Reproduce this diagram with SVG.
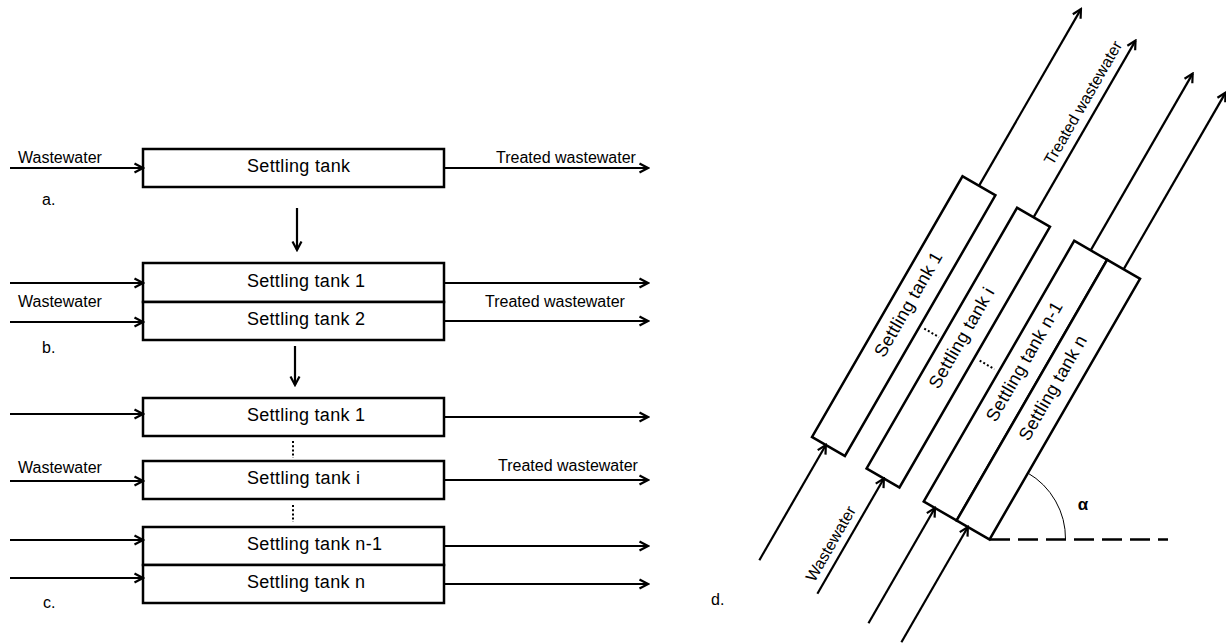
<svg xmlns="http://www.w3.org/2000/svg" width="1226" height="643" viewBox="0 0 1226 643">
<defs>
<style>
.box{fill:#fff;stroke:#000;stroke-width:2.5}
.ln{fill:none;stroke:#000;stroke-width:2.2}
.dots{fill:none;stroke:#000;stroke-width:2;stroke-dasharray:2 2.2}
.lbl{font-family:"Liberation Sans",Arial,sans-serif;font-size:16px;fill:#000}
.tk{font-family:"Liberation Sans",Arial,sans-serif;font-size:18px;fill:#000}
.al{font-family:"Liberation Sans",Arial,sans-serif;font-size:17px;font-weight:bold;fill:#000}
</style>
<marker id="ah" viewBox="0 0 12 12" refX="10" refY="6" markerWidth="12" markerHeight="12" markerUnits="userSpaceOnUse" orient="auto">
<path d="M1.5,1.5 L10,6 L1.5,10.5" fill="none" stroke="#000" stroke-width="2.2"/>
</marker>
</defs>
<rect width="1226" height="643" fill="#fff"/>

<!-- Panel a -->
<g id="a-tank"><rect class="box" x="143" y="149" width="301" height="38"/><text class="tk" x="247" y="172" textLength="103" lengthAdjust="spacing">Settling tank</text></g>
<!-- Panel b -->
<g id="b-tank1"><rect class="box" x="143" y="263" width="301" height="39"/><text class="tk" x="247" y="287" textLength="118" lengthAdjust="spacing">Settling tank 1</text></g>
<g id="b-tank2"><rect class="box" x="143" y="302" width="301" height="38"/><text class="tk" x="247" y="325" textLength="118" lengthAdjust="spacing">Settling tank 2</text></g>
<!-- Panel c -->
<g id="c-tank1"><rect class="box" x="143" y="398" width="301" height="38"/><text class="tk" x="247" y="421" textLength="118" lengthAdjust="spacing">Settling tank 1</text></g>
<g id="c-tanki"><rect class="box" x="143" y="461" width="301" height="38"/><text class="tk" x="247" y="484" textLength="113" lengthAdjust="spacing">Settling tank i</text></g>
<g id="c-tankn1"><rect class="box" x="143" y="527" width="301" height="38"/><text class="tk" x="247" y="550" textLength="135" lengthAdjust="spacing">Settling tank n-1</text></g>
<g id="c-tankn"><rect class="box" x="143" y="565" width="301" height="38"/><text class="tk" x="247" y="588" textLength="118" lengthAdjust="spacing">Settling tank n</text></g>

<!-- Panel d (panel c rotated) -->
<g transform="translate(812,437) rotate(-60) translate(-143,-398)">
<g id="d-tank1"><rect class="box" x="143" y="398" width="301" height="38"/><text class="tk" x="247" y="421" textLength="118" lengthAdjust="spacing">Settling tank 1</text></g>
<g id="d-tanki"><rect class="box" x="143" y="461" width="301" height="38"/><text class="tk" x="247" y="484" textLength="113" lengthAdjust="spacing">Settling tank i</text></g>
<g id="d-tankn1"><rect class="box" x="143" y="527" width="301" height="38"/><text class="tk" x="247" y="550" textLength="135" lengthAdjust="spacing">Settling tank n-1</text></g>
<g id="d-tankn"><rect class="box" x="143" y="565" width="301" height="38"/><text class="tk" x="247" y="588" textLength="118" lengthAdjust="spacing">Settling tank n</text></g>
</g>

<g id="connectors">
<line class="ln" x1="10" y1="168" x2="143" y2="168" marker-end="url(#ah)"/>
<line class="ln" x1="444" y1="168" x2="648" y2="168" marker-end="url(#ah)"/>
<line class="ln" x1="297" y1="208" x2="297" y2="250" marker-end="url(#ah)"/>
<line class="ln" x1="10" y1="283" x2="143" y2="283" marker-end="url(#ah)"/>
<line class="ln" x1="10" y1="322" x2="143" y2="322" marker-end="url(#ah)"/>
<line class="ln" x1="444" y1="283" x2="648" y2="283" marker-end="url(#ah)"/>
<line class="ln" x1="444" y1="321" x2="648" y2="321" marker-end="url(#ah)"/>
<line class="ln" x1="295" y1="346" x2="295" y2="385" marker-end="url(#ah)"/>
<line class="ln" x1="10" y1="414" x2="143" y2="414" marker-end="url(#ah)"/>
<line class="ln" x1="10" y1="481" x2="143" y2="481" marker-end="url(#ah)"/>
<line class="ln" x1="10" y1="540" x2="143" y2="540" marker-end="url(#ah)"/>
<line class="ln" x1="10" y1="578" x2="143" y2="578" marker-end="url(#ah)"/>
<line class="ln" x1="444" y1="417" x2="648" y2="417" marker-end="url(#ah)"/>
<line class="ln" x1="444" y1="480" x2="648" y2="480" marker-end="url(#ah)"/>
<line class="ln" x1="444" y1="546" x2="648" y2="546" marker-end="url(#ah)"/>
<line class="ln" x1="444" y1="584" x2="648" y2="584" marker-end="url(#ah)"/>
<line class="dots" x1="293" y1="441" x2="293" y2="458"/>
<line class="dots" x1="293" y1="505" x2="293" y2="522"/>
<g transform="translate(812,437) rotate(-60) translate(-143,-398)">
<line class="ln" x1="10" y1="414" x2="143" y2="414" marker-end="url(#ah)"/>
<line class="ln" x1="10" y1="481" x2="143" y2="481" marker-end="url(#ah)"/>
<line class="ln" x1="10" y1="540" x2="143" y2="540" marker-end="url(#ah)"/>
<line class="ln" x1="10" y1="578" x2="143" y2="578" marker-end="url(#ah)"/>
<line class="ln" x1="444" y1="417" x2="648" y2="417" marker-end="url(#ah)"/>
<line class="ln" x1="444" y1="480" x2="648" y2="480" marker-end="url(#ah)"/>
<line class="ln" x1="444" y1="546" x2="648" y2="546" marker-end="url(#ah)"/>
<line class="ln" x1="444" y1="584" x2="648" y2="584" marker-end="url(#ah)"/>
<line class="dots" x1="293" y1="441" x2="293" y2="458"/>
<line class="dots" x1="293" y1="505" x2="293" y2="522"/>
</g>
<path d="M1027.5,472.8 A76,76 0 0,1 1065.5,539.5" fill="none" stroke="#000" stroke-width="1"/>
<line x1="990" y1="539.5" x2="1168" y2="539.5" stroke="#000" stroke-width="2.5" stroke-dasharray="20 8"/>
</g>

<g id="labels">
<text class="lbl" x="18" y="163">Wastewater</text>
<text class="lbl" x="496" y="163">Treated wastewater</text>
<text class="lbl" x="42" y="205">a.</text>
<text class="lbl" x="18" y="307">Wastewater</text>
<text class="lbl" x="485" y="307">Treated wastewater</text>
<text class="lbl" x="42" y="353">b.</text>
<text class="lbl" x="18" y="473">Wastewater</text>
<text class="lbl" x="498" y="471">Treated wastewater</text>
<text class="lbl" x="43" y="608">c.</text>
<g transform="translate(812,437) rotate(-60) translate(-143,-398)">
<text class="lbl" x="18" y="473">Wastewater</text>
<text class="lbl" x="498" y="471">Treated wastewater</text>
</g>
<text class="lbl" x="711" y="605">d.</text>
<text class="al" x="1083" y="510" text-anchor="middle">α</text>
</g>
</svg>
